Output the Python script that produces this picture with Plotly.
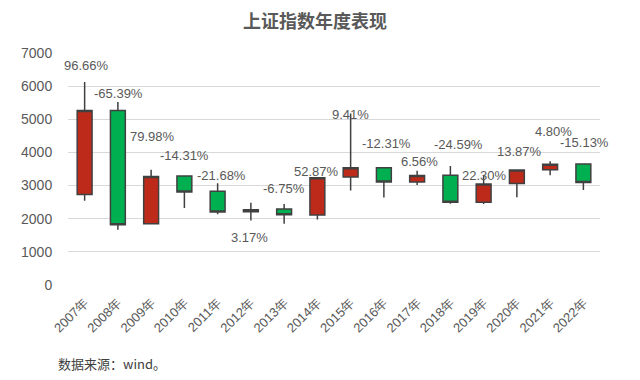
import plotly.graph_objects as go

years = ["2007年", "2008年", "2009年", "2010年", "2011年", "2012年", "2013年", "2014年",
         "2015年", "2016年", "2017年", "2018年", "2019年", "2020年", "2021年", "2022年"]
open_ = [2728, 5265, 1849, 3290, 2825, 2212, 2290, 2112, 3259, 3537, 3105, 3314, 2498, 3066, 3475, 3649]
high = [6124, 5523, 3478, 3307, 3067, 2478, 2445, 3239, 5178, 3539, 3450, 3587, 3288, 3475, 3732, 3652]
low = [2542, 1665, 1844, 2320, 2134, 1949, 1850, 1974, 2851, 2638, 3017, 2449, 2441, 2647, 3313, 2864]
close = [5262, 1821, 3277, 2808, 2199, 2269, 2116, 3235, 3539, 3104, 3307, 2494, 3050, 3473, 3640, 3089]
pct_labels = ["96.66%", "-65.39%", "79.98%", "-14.31%", "-21.68%", "3.17%", "-6.75%", "52.87%",
              "9.41%", "-12.31%", "6.56%", "-24.59%", "22.30%", "13.87%", "4.80%", "-15.13%"]

# label placement (pixels, relative to each year's high)
label_yshift = [17, 8, 33, 20, 8, -35, 15, 6, -1, 24, 9, 22, 1, 18, 30, 21]
label_xshift = [2, 1, 1, 0, 4, -1, 0, -1, 0, 3, 2, 8, 1, 3, 3, 1]

fig = go.Figure()
fig.add_trace(go.Candlestick(
    x=years, open=open_, high=high, low=low, close=close,
    increasing=dict(fillcolor="#BE2A1A", line=dict(color="#404040", width=1.5)),
    decreasing=dict(fillcolor="#00B050", line=dict(color="#404040", width=1.5)),
    showlegend=False, hoverinfo="skip",
))

for i, lab in enumerate(pct_labels):
    fig.add_annotation(x=years[i], y=high[i], text=lab, showarrow=False,
                       xanchor="center", yanchor="middle",
                       yshift=label_yshift[i], xshift=label_xshift[i],
                       font=dict(family="Liberation Sans, Arial, sans-serif", size=13, color="#595959"))

fig.add_annotation(xref="paper", yref="paper", x=-0.023, y=-0.34, text="数据来源：wind。",
                   showarrow=False, xanchor="left", yanchor="middle",
                   font=dict(family="Noto Sans CJK SC, sans-serif", size=13, color="#404040"))

fig.update_layout(
    width=640, height=380,
    margin=dict(l=60, r=48, t=45, b=103),
    paper_bgcolor="white", plot_bgcolor="white",
    boxgap=0.36,
    title=dict(text="<b>上证指数年度表现</b>", x=(315 - 8) / 640, xanchor="center",
               y=0.963, yanchor="middle",
               font=dict(family="Noto Sans CJK SC, sans-serif", size=18, color="#595959")),
    xaxis=dict(type="category", range=[-0.5, 15.5], rangeslider=dict(visible=False), tickangle=-45,
               showgrid=False, showline=False, ticks="outside", ticklen=4, tickcolor="rgba(0,0,0,0)",
               tickfont=dict(family="Liberation Sans, Arial, sans-serif", size=13, color="#595959")),
    yaxis=dict(range=[0, 7000], dtick=1000, showgrid=True, gridcolor="#D9D9D9", gridwidth=1,
               zeroline=False, showline=False, ticks="outside", ticklen=12, tickcolor="rgba(0,0,0,0)",
               tickfont=dict(family="Liberation Sans, Arial, sans-serif", size=14, color="#595959")),
)

fig.write_html("out.html")
